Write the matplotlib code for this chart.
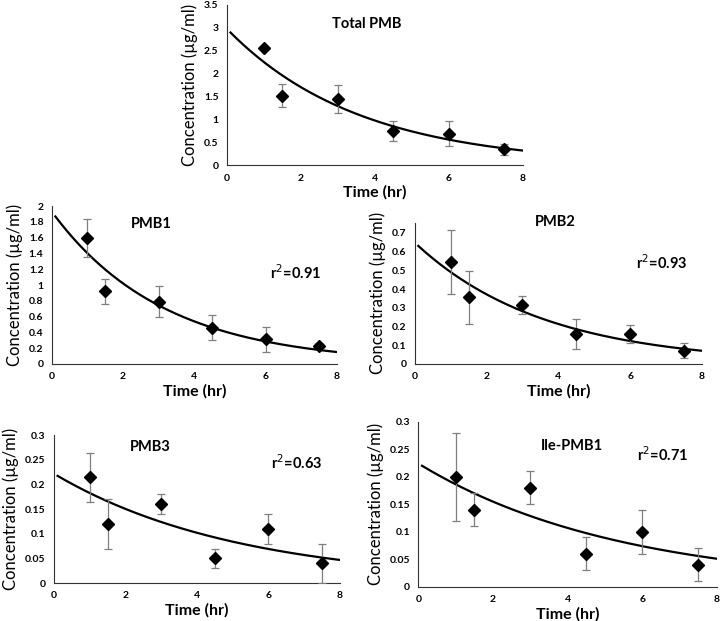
import numpy as np
import matplotlib
matplotlib.use("Agg")
import matplotlib.pyplot as plt

plt.rcParams['font.family'] = ['Lato', 'DejaVu Sans']

time = [1, 1.5, 3, 4.5, 6, 7.5]

total_y = [2.55, 1.52, 1.45, 0.75, 0.69, 0.35]
total_err = [0.0, 0.25, 0.30, 0.22, 0.27, 0.12]
total_fit = (2.98, 0.279)

pmb1_y = [1.60, 0.92, 0.79, 0.46, 0.31, 0.23]
pmb1_err = [0.24, 0.16, 0.20, 0.16, 0.16, 0.03]
pmb1_fit = (1.93, 0.319)

pmb2_y = [0.545, 0.355, 0.315, 0.16, 0.16, 0.07]
pmb2_err = [0.17, 0.14, 0.05, 0.08, 0.05, 0.04]
pmb2_fit = (0.648, 0.278)

pmb3_y = [0.215, 0.12, 0.16, 0.05, 0.11, 0.04]
pmb3_err = [0.05, 0.05, 0.02, 0.02, 0.03, 0.04]
pmb3_fit = (0.222, 0.194)

ile_y = [0.20, 0.14, 0.18, 0.06, 0.10, 0.04]
ile_err = [0.08, 0.03, 0.03, 0.03, 0.04, 0.03]
ile_fit = (0.224, 0.185)

titles = ["Total PMB", "PMB1", "PMB2", "PMB3", "Ile-PMB1"]
r2_labels = [None, "r$^2$=0.91", "r$^2$=0.93", "r$^2$=0.63", "r$^2$=0.71"]


def fmt(v):
    s = ("%.2f" % v).rstrip("0").rstrip(".")
    return s


fig = plt.figure(figsize=(7.2, 6.21), dpi=100)

# axes rectangles in figure fractions
rects = [
    [0.315, 0.734, 0.411, 0.258],
    [0.072, 0.414, 0.396, 0.254],
    [0.576, 0.414, 0.399, 0.227],
    [0.075, 0.061, 0.397, 0.238],
    [0.581, 0.055, 0.415, 0.266],
]
ylims = [3.5, 2.0, 0.753, 0.3, 0.3]
ysteps = [0.5, 0.2, 0.1, 0.05, 0.05]
ytop_tick = [3.5, 2.0, 0.7, 0.3, 0.3]
title_pos = [(3.78, 3.08), (2.8, 1.77), (3.9, 0.76), (2.69, 0.276), (4.12, 0.255)]
r2_pos = [None, (6.85, 1.16), (6.88, 0.54), (6.8, 0.245), (6.53, 0.24)]

series = [total_y, pmb1_y, pmb2_y, pmb3_y, ile_y]
errors = [total_err, pmb1_err, pmb2_err, pmb3_err, ile_err]
fits = [total_fit, pmb1_fit, pmb2_fit, pmb3_fit, ile_fit]

tt = np.linspace(0.1, 8, 200)

for i in range(5):
    ax = fig.add_axes(rects[i])
    c0, k = fits[i]
    ax.plot(tt, c0 * np.exp(-k * tt), color='black', lw=1.6, zorder=2)
    ax.errorbar(time, series[i], yerr=errors[i], fmt='D', color='black',
                markersize=6, ecolor='#7f7f7f', elinewidth=0.9, capsize=3,
                capthick=0.9, zorder=3)
    ax.set_xlim(0, 8)
    ax.set_ylim(0, ylims[i])
    ticks = np.arange(0, ytop_tick[i] + 1e-9, ysteps[i])
    ax.set_yticks(ticks)
    ax.set_yticklabels([fmt(t) for t in ticks])
    ax.set_xticks([0, 2, 4, 6, 8])
    ax.set_xticklabels(["0", "2", "4", "6", "8"])
    for lab in ax.get_xticklabels() + ax.get_yticklabels():
        lab.set_fontsize(7.5)
        lab.set_fontweight('bold')
    ax.tick_params(length=0, pad=6)
    ax.spines['top'].set_visible(False)
    ax.spines['right'].set_visible(False)
    ax.spines['left'].set_color('#333333')
    ax.spines['bottom'].set_color('#333333')
    ax.set_xlabel("Time (hr)", fontsize=11.5, fontweight='bold', labelpad=2)
    ax.set_ylabel("Concentration (µg/ml)", fontsize=12, labelpad=4)
    ax.text(title_pos[i][0], title_pos[i][1], titles[i], fontsize=10.5,
            fontweight='bold', ha='center', va='center')
    if r2_labels[i]:
        ax.text(r2_pos[i][0], r2_pos[i][1], r2_labels[i], fontsize=10.5,
                fontweight='bold', ha='center', va='center')

fig.savefig("out.png", dpi=100)
